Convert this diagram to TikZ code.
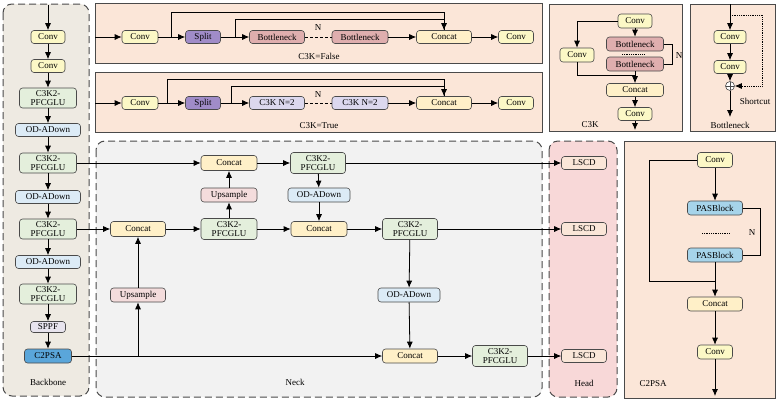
\documentclass[tikz,border=0pt]{standalone}
\usepackage{fontspec}
\setmainfont{Liberation Serif}
\usetikzlibrary{arrows.meta,positioning,calc}
\definecolor{bk70}{HTML}{4A4A4A}
\definecolor{convc}{HTML}{FCF8C6}
\definecolor{c3kc}{HTML}{E4EFDC}
\definecolor{downc}{HTML}{DCEBF6}
\definecolor{catc}{HTML}{FFF0C8}
\definecolor{upc}{HTML}{F4DCDC}
\definecolor{sppfc}{HTML}{E8E4EE}
\definecolor{psac}{HTML}{5AA6DA}
\definecolor{splitc}{HTML}{A08CC8}
\definecolor{bottc}{HTML}{DFAEAE}
\definecolor{nkc}{HTML}{DCD8EE}
\definecolor{lscdc}{HTML}{FAE6D8}
\definecolor{pasc}{HTML}{A6D4EA}
\definecolor{peach}{HTML}{FBE6D8}
\definecolor{backc}{HTML}{EEEAE2}
\definecolor{neckc}{HTML}{F2F2F2}
\definecolor{headc}{HTML}{F8D8D8}
\tikzset{
  modblock/.style={
    rectangle, rounded corners=3pt, draw=bk70, fill=#1, line width=0.6pt,
    minimum width=35pt, minimum height=13pt,
    font=\fontsize{9}{9.3}\selectfont, align=center, inner sep=1pt
  },
  modblock/.default=convc,
  flowarrow/.style={
    -{Latex[length=7pt,width=6pt]}, line width=0.8pt, color=black
  },
  flowline/.style={line width=0.8pt, color=black},
  panelbox/.style={
    draw=bk70, fill=#1, line width=0.8pt
  },
  panelbox/.default=peach,
  dashpanel/.style={
    draw=bk70, fill=#1, line width=1pt, rounded corners=9pt,
    dash pattern=on 7pt off 4pt
  },
  labelnode/.style={font=\fontsize{9}{9.3}\selectfont, color=black}
}

\begin{document}
\begin{tikzpicture}[x=1pt,y=-1pt]
  \useasboundingbox (0,0) rectangle (776,402);

  % Panels
  \draw[dashpanel=backc] (3,4) rectangle (89,396);
  \draw[dashpanel=neckc] (96,141) rectangle (542,397);
  \draw[dashpanel=headc] (549,141) rectangle (617,397);
  \draw[panelbox] (95,3) rectangle (542,63);
  \draw[panelbox] (95,72) rectangle (542,132);
  \draw[panelbox] (549,4) rectangle (682,131);
  \draw[panelbox] (690,4) rectangle (775,131);
  \draw[panelbox] (624,141) rectangle (775,398);

  % Backbone
  \coordinate (bin) at (48,5);
  \node[modblock=convc, minimum width=34pt] (bconv1) at (48,37) {Conv};
  \node[modblock=convc, minimum width=34pt] (bconv2) at (48,66) {Conv};
  \node[modblock=c3kc, minimum width=57pt, minimum height=20pt] (bc3k1) at (48,98) {C3K2-\\PFCGLU};
  \node[modblock=downc, minimum width=65pt] (bdown1) at (48,130) {OD-ADown};
  \node[modblock=c3kc, minimum width=57pt, minimum height=20pt] (bc3k2) at (48,163) {C3K2-\\PFCGLU};
  \node[modblock=downc, minimum width=65pt] (bdown2) at (48,197) {OD-ADown};
  \node[modblock=c3kc, minimum width=57pt, minimum height=20pt] (bc3k3) at (48,229) {C3K2-\\PFCGLU};
  \node[modblock=downc, minimum width=65pt] (bdown3) at (48,262) {OD-ADown};
  \node[modblock=c3kc, minimum width=57pt, minimum height=20pt] (bc3k4) at (48,294) {C3K2-\\PFCGLU};
  \node[modblock=sppfc, minimum width=35pt, minimum height=11pt] (bsppf) at (48,327) {SPPF};
  \node[modblock=psac, minimum width=47pt, minimum height=14pt] (bpsa) at (48,356) {C2PSA};
  \node[labelnode] at (48,382) {Backbone};
  \draw[flowarrow] (bin) -- (bconv1.north);
  \draw[flowarrow] (bconv1) -- (bconv2);
  \draw[flowarrow] (bconv2) -- (bc3k1);
  \draw[flowarrow] (bc3k1) -- (bdown1);
  \draw[flowarrow] (bdown1) -- (bc3k2);
  \draw[flowarrow] (bc3k2) -- (bdown2);
  \draw[flowarrow] (bdown2) -- (bc3k3);
  \draw[flowarrow] (bc3k3) -- (bdown3);
  \draw[flowarrow] (bdown3) -- (bc3k4);
  \draw[flowarrow] (bc3k4) -- (bsppf);
  \draw[flowarrow] (bsppf) -- (bpsa);

  % C3K2 with C3K=False
  \coordinate (fin) at (95,37);
  \node[modblock=convc, minimum width=36pt] (fconv1) at (140,37) {Conv};
  \node[modblock=splitc, minimum width=35pt] (fsplit) at (203,37) {Split};
  \node[modblock=bottc, minimum width=55pt] (fbot1) at (277,37) {Bottleneck};
  \node[modblock=bottc, minimum width=56pt] (fbot2) at (360,37) {Bottleneck};
  \node[modblock=catc, minimum width=55pt] (fcat) at (444,37) {Concat};
  \node[modblock=convc, minimum width=35pt] (fconv2) at (516,37) {Conv};
  \coordinate (fa) at (171,37);
  \coordinate (fb) at (235,37);
  \draw[flowarrow] (fin) -- (fconv1);
  \draw[flowarrow] (fconv1) -- (fsplit);
  \draw[flowarrow] (fsplit) -- (fbot1);
  \draw[flowline, densely dashed] (fbot1) -- (fbot2);
  \draw[flowarrow] (fbot2) -- (fcat);
  \draw[flowarrow] (fcat) -- (fconv2);
  \draw[flowarrow] (fa) -- ++(0,-25) -| (fcat.north);
  \draw[flowline] (fb) -- ++(0,-18) -| (fcat.north);
  \node[labelnode] at (318,28) {N};
  \node[labelnode] at (319,56) {C3K=False};

  % C3K2 with C3K=True
  \coordinate (tin) at (95,103);
  \node[modblock=convc, minimum width=36pt] (tconv1) at (140,103) {Conv};
  \node[modblock=splitc, minimum width=35pt] (tsplit) at (203,103) {Split};
  \node[modblock=nkc, minimum width=55pt] (tc3k1) at (277,103) {C3K N=2};
  \node[modblock=nkc, minimum width=56pt] (tc3k2) at (360,103) {C3K N=2};
  \node[modblock=catc, minimum width=55pt] (tcat) at (444,103) {Concat};
  \node[modblock=convc, minimum width=35pt] (tconv2) at (516,103) {Conv};
  \coordinate (ta) at (167,103);
  \coordinate (tb) at (231,103);
  \draw[flowarrow] (tin) -- (tconv1);
  \draw[flowarrow] (tconv1) -- (tsplit);
  \draw[flowarrow] (tsplit) -- (tc3k1);
  \draw[flowline, densely dashed] (tc3k1) -- (tc3k2);
  \draw[flowarrow] (tc3k2) -- (tcat);
  \draw[flowarrow] (tcat) -- (tconv2);
  \draw[flowarrow] (ta) -- ++(0,-24) -| (tcat.north);
  \draw[flowline] (tb) -- ++(0,-17) -| (tcat.north);
  \node[labelnode] at (318,95) {N};
  \node[labelnode] at (319,126) {C3K=True};

  % C3K
  \node[modblock=convc, minimum width=34pt, minimum height=14pt] (kconv1) at (635,21) {Conv};
  \node[modblock=bottc, minimum width=57pt, minimum height=14pt] (kbot1) at (635,44) {Bottleneck};
  \node[modblock=bottc, minimum width=57pt, minimum height=14pt] (kbot2) at (635,64) {Bottleneck};
  \node[modblock=convc, minimum width=34pt, minimum height=14pt] (kconvl) at (577,55) {Conv};
  \node[modblock=catc, minimum width=57pt, minimum height=13pt] (kcat) at (635,90) {Concat};
  \node[modblock=convc, minimum width=34pt, minimum height=13pt] (kconv2) at (635,114) {Conv};
  \coordinate (kj) at (635,75);
  \coordinate (kout) at (635,130);
  \draw[flowarrow] (kconv1) -- (kbot1);
  \draw[flowarrow] (kconv1.west) -| (kconvl.north);
  \draw[flowline, densely dotted] (622,54) -- (645,54);
  \draw[flowline] (kbot1.east) -- ++(9,0) |- (kbot2.east);
  \draw[flowline] (kconvl.south) |- (kj);
  \draw[flowarrow] (kbot2) -- (kcat);
  \draw[flowarrow] (kcat) -- (kconv2);
  \draw[flowarrow] (kconv2) -- (kout);
  \node[labelnode] at (679,56) {N};
  \node[labelnode] at (590,125) {C3K};

  % Bottleneck
  \coordinate (uin) at (730,4);
  \coordinate (us) at (730,15);
  \node[modblock=convc, minimum width=32pt, minimum height=13pt] (uconv1) at (730,37) {Conv};
  \node[modblock=convc, minimum width=32pt, minimum height=13pt] (uconv2) at (730,67) {Conv};
  \node[circle, draw=bk70, fill=white, line width=0.6pt, minimum size=9pt, inner sep=0pt,
    path picture={\draw[bk70, line width=0.6pt]
      (path picture bounding box.north) -- (path picture bounding box.south)
      (path picture bounding box.west) -- (path picture bounding box.east);}] (uadd) at (730,86) {};
  \coordinate (uout) at (730,117);
  \draw[flowarrow] (uin) -- (uconv1);
  \draw[flowarrow] (uconv1) -- (uconv2);
  \draw[flowarrow] (uconv2) -- (uadd);
  \draw[flowarrow] (uadd) -- (uout);
  \draw[flowarrow, densely dotted] (us) -- (762,15) |- (uadd.east);
  \node[labelnode] at (755,101) {Shortcut};
  \node[labelnode] at (730,125) {Bottleneck};

  % Neck
  \node[modblock=catc, minimum width=56pt, minimum height=15pt] (ncat1) at (229,163) {Concat};
  \node[modblock=c3kc, minimum width=55pt, minimum height=21pt] (nc3k1) at (318,163) {C3K2-\\PFCGLU};
  \node[modblock=upc, minimum width=56pt, minimum height=14pt] (nup1) at (229,195) {Upsample};
  \node[modblock=downc, minimum width=62pt, minimum height=14pt] (ndown1) at (319,195) {OD-ADown};
  \node[modblock=catc, minimum width=55pt, minimum height=15pt] (ncat2) at (138,229) {Concat};
  \node[modblock=c3kc, minimum width=56pt, minimum height=21pt] (nc3k2) at (229,229) {C3K2-\\PFCGLU};
  \node[modblock=catc, minimum width=56pt, minimum height=15pt] (ncat3) at (319,229) {Concat};
  \node[modblock=c3kc, minimum width=55pt, minimum height=21pt] (nc3k3) at (410,229) {C3K2-\\PFCGLU};
  \node[modblock=upc, minimum width=55pt, minimum height=14pt] (nup2) at (138,295) {Upsample};
  \node[modblock=downc, minimum width=62pt, minimum height=14pt] (ndown2) at (409,295) {OD-ADown};
  \node[modblock=catc, minimum width=55pt, minimum height=14pt] (ncat4) at (410,356) {Concat};
  \node[modblock=c3kc, minimum width=55pt, minimum height=21pt] (nc3k4) at (500,356) {C3K2-\\PFCGLU};
  \coordinate (nb) at (138,356);
  \node[labelnode] at (295,382) {Neck};
  \draw[flowarrow] (bc3k2) -- (ncat1);
  \draw[flowarrow] (ncat1) -- (nc3k1);
  \draw[flowarrow] (nc3k1) -- (ndown1);
  \draw[flowarrow] (ndown1) -- (ncat3);
  \draw[flowarrow] (bc3k3) -- (ncat2);
  \draw[flowarrow] (ncat2) -- (nc3k2);
  \draw[flowarrow] (nc3k2) -- (nup1);
  \draw[flowarrow] (nup1) -- (ncat1);
  \draw[flowarrow] (nc3k2) -- (ncat3);
  \draw[flowarrow] (ncat3) -- (nc3k3);
  \draw[flowarrow] (nc3k3) -- (ndown2);
  \draw[flowarrow] (ndown2) -- (ncat4);
  \draw[flowarrow] (bpsa) -- (ncat4);
  \draw[flowarrow] (nb) -- (nup2);
  \draw[flowarrow] (nup2) -- (ncat2);
  \draw[flowarrow] (ncat4) -- (nc3k4);

  % Head
  \node[modblock=lscdc, minimum width=45pt] (hl1) at (584,163) {LSCD};
  \node[modblock=lscdc, minimum width=45pt] (hl2) at (584,229) {LSCD};
  \node[modblock=lscdc, minimum width=45pt] (hl3) at (584,356) {LSCD};
  \node[labelnode] at (584,383) {Head};
  \draw[flowarrow] (nc3k1) -- (hl1);
  \draw[flowarrow] (nc3k3) -- (hl2);
  \draw[flowarrow] (nc3k4) -- (hl3);

  % C2PSA
  \node[modblock=convc, minimum width=35pt, minimum height=15pt] (pconv1) at (715,160) {Conv};
  \node[modblock=pasc, minimum width=55pt, minimum height=14pt] (ppas1) at (715,208) {PASBlock};
  \node[modblock=pasc, minimum width=55pt, minimum height=14pt] (ppas2) at (715,255) {PASBlock};
  \node[modblock=catc, minimum width=55pt, minimum height=14pt] (pcat) at (715,304) {Concat};
  \node[modblock=convc, minimum width=35pt, minimum height=14pt] (pconv2) at (715,352) {Conv};
  \coordinate (pj) at (715,281);
  \coordinate (pout) at (715,396);
  \draw[flowarrow] (pconv1) -- (ppas1);
  \draw[flowline] (ppas1.east) -- ++(18,0) |- (ppas2.east);
  \draw[flowline, densely dotted] (702,233) -- (730,233);
  \draw[flowline] (pconv1.west) -- ++(-48,0) |- (pj);
  \draw[flowarrow] (ppas2) -- (pcat);
  \draw[flowarrow] (pcat) -- (pconv2);
  \draw[flowarrow] (pconv2) -- (pout);
  \node[labelnode] at (752,233) {N};
  \node[labelnode] at (653,384) {C2PSA};
\end{tikzpicture}
\end{document}
